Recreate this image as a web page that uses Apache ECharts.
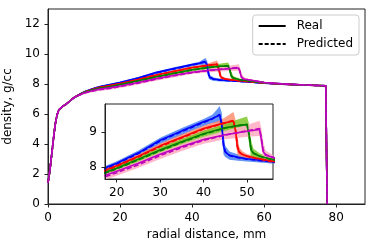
<!DOCTYPE html>
<html><head><meta charset="utf-8">
<script src="https://cdn.jsdelivr.net/npm/echarts@6/dist/echarts.min.js"></script>
<style>html,body{margin:0;padding:0;background:#fff}#c{width:374px;height:249px}</style>
</head><body><div id="c"></div>
<script>
// ---- data (radial distance mm, density g/cc) ----
const rBlue   = [0,0.5,1,1.5,2,2.5,3,3.5,4,5,6,7,8,10,12,14,17,20,25,30,35,40,42,43,43.7,44.2,44.6,45,46,48,50,55,60,65,70,75,77.1,77.5];
const realBlue= [1.4,2.2,3.25,4.3,5.3,5.93,6.27,6.4,6.5,6.65,6.85,7.05,7.2,7.47,7.65,7.8,7.95,8.1,8.4,8.76,9.03,9.29,9.38,9.44,9.48,9.2,8.6,8.42,8.33,8.27,8.23,8.16,8.06,7.99,7.94,7.9,7.88,0];
const predBlue= [1.4,2.2,3.25,4.3,5.3,5.93,6.27,6.4,6.5,6.65,6.85,7.05,7.2,7.46,7.63,7.78,7.93,8.08,8.38,8.74,9.01,9.27,9.37,9.45,9.5,9.25,8.65,8.44,8.32,8.26,8.22,8.15,8.06,7.99,7.94,7.9,7.88,0];
const sdBlue  = [0.03,0.03,0.03,0.03,0.03,0.03,0.04,0.04,0.04,0.05,0.05,0.06,0.06,0.07,0.07,0.08,0.08,0.08,0.09,0.09,0.1,0.1,0.12,0.18,0.24,0.3,0.3,0.16,0.12,0.09,0.07,0.05,0.04,0.04,0.04,0.04,0.04,0.04];

const rRed    = [0,0.5,1,1.5,2,2.5,3,3.5,4,5,6,7,8,10,12,14,17,20,25,30,35,40,44,46,46.9,47.4,47.8,48.3,49,50,52,55,60,65,70,75,77.1,77.5];
const realRed = [1.4,2.2,3.25,4.3,5.3,5.93,6.27,6.4,6.5,6.65,6.85,7.05,7.2,7.45,7.62,7.76,7.89,8.03,8.3,8.6,8.85,9.1,9.23,9.29,9.31,9.0,8.55,8.4,8.35,8.31,8.25,8.18,8.07,7.99,7.94,7.9,7.88,0];
const predRed = [1.4,2.2,3.25,4.3,5.3,5.93,6.27,6.4,6.5,6.65,6.85,7.05,7.2,7.44,7.6,7.74,7.87,8.01,8.28,8.58,8.83,9.08,9.22,9.3,9.33,9.05,8.6,8.42,8.35,8.3,8.24,8.17,8.07,7.99,7.94,7.9,7.88,0];
const sdRed   = [0.03,0.03,0.03,0.03,0.03,0.03,0.04,0.04,0.04,0.05,0.05,0.06,0.06,0.07,0.07,0.08,0.08,0.08,0.09,0.09,0.1,0.1,0.12,0.2,0.24,0.28,0.26,0.12,0.09,0.07,0.06,0.05,0.04,0.04,0.04,0.04,0.04,0.04];

const rGreen   = [0,0.5,1,1.5,2,2.5,3,3.5,4,5,6,7,8,10,12,14,17,20,25,30,35,40,45,48,50,50.5,50.9,51.5,53,55,60,65,70,75,77.1,77.5];
const realGreen= [1.4,2.2,3.25,4.3,5.3,5.93,6.27,6.4,6.5,6.65,6.85,7.05,7.2,7.43,7.58,7.71,7.82,7.96,8.22,8.48,8.72,8.95,9.12,9.18,9.21,8.9,8.5,8.38,8.3,8.24,8.09,8.0,7.94,7.9,7.88,0];
const predGreen= [1.4,2.2,3.25,4.3,5.3,5.93,6.27,6.4,6.5,6.65,6.85,7.05,7.2,7.42,7.56,7.69,7.8,7.94,8.2,8.46,8.7,8.93,9.11,9.18,9.22,8.95,8.55,8.4,8.3,8.23,8.09,8.0,7.94,7.9,7.88,0];
const sdGreen  = [0.03,0.03,0.03,0.03,0.03,0.03,0.04,0.04,0.04,0.05,0.05,0.06,0.06,0.07,0.07,0.08,0.08,0.08,0.09,0.09,0.1,0.1,0.12,0.18,0.22,0.27,0.24,0.12,0.08,0.06,0.05,0.04,0.04,0.04,0.04,0.04];

const rMag    = [0,0.5,1,1.5,2,2.5,3,3.5,4,5,6,7,8,10,12,14,17,20,25,30,35,40,45,50,52.9,53.3,53.7,54.3,56,60,65,70,75,77.1,77.5];
const realMag = [1.4,2.2,3.25,4.3,5.3,5.93,6.27,6.4,6.5,6.65,6.85,7.05,7.2,7.4,7.53,7.64,7.74,7.87,8.1,8.36,8.58,8.78,8.92,9.02,9.07,8.8,8.45,8.33,8.27,8.1,8.01,7.95,7.9,7.88,0];
const predMag = [1.4,2.2,3.25,4.3,5.3,5.93,6.27,6.4,6.5,6.65,6.85,7.05,7.2,7.39,7.51,7.61,7.7,7.83,8.06,8.32,8.55,8.76,8.91,9.03,9.1,8.85,8.5,8.35,8.27,8.1,8.01,7.95,7.9,7.88,0];
const sdMag   = [0.03,0.03,0.03,0.03,0.03,0.03,0.04,0.04,0.04,0.05,0.05,0.06,0.06,0.07,0.07,0.08,0.08,0.09,0.09,0.1,0.1,0.1,0.12,0.17,0.22,0.26,0.24,0.12,0.07,0.05,0.04,0.04,0.04,0.04,0.04];

const xTicksMain = [0,20,40,60,80];
const yTicksMain = [0,2,4,6,8,10,12];
const xTicksInset = [20,30,40,50];
const yTicksInset = [8,9];
const legendNames = ['Real','Predicted'];

// ---- styling ----
const FONT = 'DejaVu Sans';
const groups = [
  {r:rBlue, real:realBlue, pred:predBlue, sd:sdBlue, line:'#0000ff', band:'rgba(60,120,245,0.8)'},
  {r:rRed, real:realRed, pred:predRed, sd:sdRed, line:'#ff0000', band:'rgba(250,135,105,0.8)'},
  {r:rGreen, real:realGreen, pred:predGreen, sd:sdGreen, line:'#008000', band:'rgba(125,200,40,0.85)'},
  {r:rMag, real:realMag, pred:predMag, sd:sdMag, line:'#bf00bf', band:'rgba(255,175,195,0.9)'}
];

function axisCommon(ticks){
  return {
    type:'value',
    splitLine:{show:false},
    axisLine:{show:true, onZero:false, lineStyle:{color:'#222', width:1}},
    axisTick:{show:true, inside:false, length:3.5, lineStyle:{color:'#222', width:1}, customValues:ticks},
    axisLabel:{color:'#000', fontSize:12, fontFamily:FONT, customValues:ticks}
  };
}

function bandRender(g){
  return function(params, api){
    const up = [], dn = [];
    for (let i = 0; i < g.r.length; i++){
      up.push(api.coord([g.r[i], g.pred[i] + g.sd[i]]));
      dn.push(api.coord([g.r[i], g.pred[i] - g.sd[i]]));
    }
    return {type:'polygon', shape:{points: up.concat(dn.reverse())}, style:{fill:g.band, stroke:null}};
  };
}

const series = [];
[0,1].forEach(gi=>{
  const zb = gi === 0 ? 2 : 10;
  groups.forEach((g,k)=>{
    series.push({type:'custom', xAxisIndex:gi, yAxisIndex:gi, data:[[g.r[0], g.pred[0]]], renderItem:bandRender(g),
      clip:true, silent:true, z:zb, animation:false});
    series.push({type:'line', xAxisIndex:gi, yAxisIndex:gi, data:g.r.map((x,i)=>[x,g.real[i]]), symbol:'none',
      lineStyle:{color:g.line, width:1.6}, clip:true, z:zb+1, animation:false, silent:true});
    series.push({type:'line', xAxisIndex:gi, yAxisIndex:gi, data:g.r.map((x,i)=>[x,g.pred[i]]), symbol:'none',
      lineStyle:{color:g.line, width:1.6, type:[5,2.5]}, clip:true, z:zb+1, animation:false, silent:true});
  });
});
// legend proxies
series.push({name:legendNames[0], type:'line', data:[], symbol:'none', itemStyle:{color:'#000'}, lineStyle:{color:'#000', width:1.3}});
series.push({name:legendNames[1], type:'line', data:[], symbol:'none', itemStyle:{color:'#000'}, lineStyle:{color:'#000', width:1.3, type:[4,2]}});

const chart = echarts.init(document.getElementById('c'), null, {renderer:'canvas'});
chart.setOption({
  animation:false,
  backgroundColor:'#fff',
  textStyle:{fontFamily:FONT},
  grid:[
    {left:48, right:9, top:9, bottom:45, show:true, borderColor:'#222', borderWidth:1, backgroundColor:'transparent', outerBoundsMode:'none', containLabel:false},
    {left:105, top:104, width:168, height:75, show:true, borderColor:'#222', borderWidth:1, backgroundColor:'#fff', z:5, outerBoundsMode:'none', containLabel:false}
  ],
  xAxis:[
    Object.assign(axisCommon(xTicksMain), {gridIndex:0, min:0, max:88, name:'radial distance, mm', nameLocation:'middle', nameGap:19,
      nameTextStyle:{fontSize:12, color:'#000', fontFamily:FONT}}),
    Object.assign(axisCommon(xTicksInset), {gridIndex:1, min:17.3, max:56, z:20})
  ],
  yAxis:[
    Object.assign(axisCommon(yTicksMain), {gridIndex:0, min:0, max:13, name:'density, g/cc', nameLocation:'middle', nameGap:21,
      nameTextStyle:{fontSize:12, color:'#000', fontFamily:FONT}}),
    Object.assign(axisCommon(yTicksInset), {gridIndex:1, min:7.65, max:9.8, z:20})
  ],
  legend:{
    data:legendNames, orient:'vertical', right:15, top:15, itemWidth:27, itemHeight:10, itemGap:6,
    backgroundColor:'#fff', borderColor:'#ccc', borderWidth:1, borderRadius:3, padding:[5,6,5,5],
    itemStyle:{color:'rgba(0,0,0,0)', borderWidth:0},
    textStyle:{fontSize:12, color:'#000', fontFamily:FONT, padding:[0,0,0,6]}, selectedMode:false
  },
  series
});
</script>
</body></html>
